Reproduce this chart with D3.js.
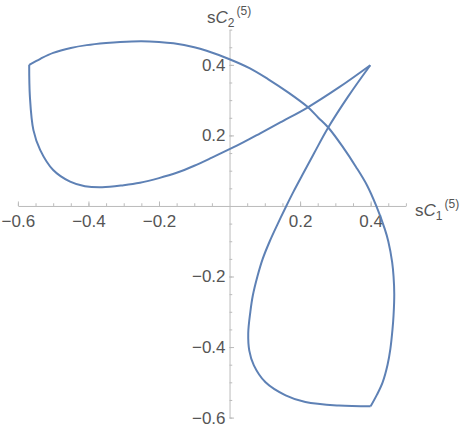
<!DOCTYPE html>
<html>
<head>
<meta charset="utf-8">
<script src="https://cdn.jsdelivr.net/npm/d3@7"></script>
<style>
  body { margin: 0; background: #fff; }
  svg text { font-family: "Liberation Sans", Arial, sans-serif; fill: #555; }
</style>
</head>
<body>
<script>

let width = 463;
let height = 430;

// curve, split at the three cusps
// cusp A -> top arc -> right side -> cusp C
let topArc = [
    [-0.568, 0.400], [-0.535, 0.418], [-0.500, 0.434], [-0.450, 0.448],
    [-0.405, 0.456], [-0.350, 0.462], [-0.310, 0.465], [-0.250, 0.467],
    [-0.200, 0.465], [-0.159, 0.461], [-0.100, 0.450], [-0.065, 0.440],
    [0.000, 0.416], [0.058, 0.390], [0.110, 0.359], [0.166, 0.322],
    [0.221, 0.281], [0.251, 0.251], [0.281, 0.221], [0.322, 0.166],
    [0.359, 0.110], [0.390, 0.058], [0.416, 0.000], [0.440, -0.065],
    [0.450, -0.100], [0.461, -0.159], [0.465, -0.200], [0.467, -0.250],
    [0.465, -0.310], [0.462, -0.350], [0.456, -0.405], [0.448, -0.450],
    [0.434, -0.500], [0.418, -0.535], [0.400, -0.568]
];
// cusp C -> bottom -> left branch -> cusp B
let lowerBranch = [
    [0.400, -0.568], [0.310, -0.566], [0.215, -0.556], [0.159, -0.537],
    [0.102, -0.500], [0.069, -0.452], [0.056, -0.410], [0.053, -0.361],
    [0.059, -0.300], [0.066, -0.254], [0.079, -0.200], [0.094, -0.150],
    [0.114, -0.100], [0.137, -0.050], [0.161, 0.000], [0.181, 0.040],
    [0.206, 0.087], [0.240, 0.150], [0.279, 0.221], [0.336, 0.310],
    [0.399, 0.399]
];
// cusp B -> down left -> left loop -> cusp A
let leftLoop = [
    [0.399, 0.399], [0.310, 0.336], [0.221, 0.279], [0.150, 0.240],
    [0.087, 0.206], [0.040, 0.181], [0.000, 0.161], [-0.050, 0.137],
    [-0.100, 0.114], [-0.150, 0.094], [-0.200, 0.079], [-0.254, 0.066],
    [-0.300, 0.059], [-0.361, 0.053], [-0.410, 0.056], [-0.452, 0.069],
    [-0.500, 0.102], [-0.537, 0.159], [-0.556, 0.215], [-0.566, 0.310],
    [-0.568, 0.400]
];

let xMajor = [-0.6, -0.4, -0.2, 0.2, 0.4];
let yMajor = [-0.6, -0.4, -0.2, 0.2, 0.4];
let xMinor = d3.range(-12, 11).map(d => d * 0.05).filter(d => Math.abs(d) > 1e-9);
let yMinor = d3.range(-12, 11).map(d => d * 0.05).filter(d => Math.abs(d) > 1e-9);

let x = d3.scaleLinear().domain([-0.6, 0.5]).range([17.9, 405.9]);
let y = d3.scaleLinear().domain([-0.6, 0.5]).range([417.6, 29.6]);

let svg = d3.select("body").append("svg")
    .attr("width", width)
    .attr("height", height);

let fmt = d3.format(".1f");

// x axis
let gx = svg.append("g").attr("transform", "translate(0," + y(0) + ")");
gx.call(d3.axisBottom(x).tickValues(xMinor).tickSize(-2.7).tickSizeOuter(0).tickFormat(""));
gx.append("g").call(d3.axisBottom(x).tickValues(xMajor).tickSize(-4.5).tickPadding(9).tickFormat(fmt))
    .select(".domain").remove();

// y axis
let gy = svg.append("g").attr("transform", "translate(" + x(0) + ",0)");
gy.call(d3.axisLeft(y).tickValues(yMinor).tickSize(-2.7).tickSizeOuter(0).tickFormat(""));
gy.append("g").call(d3.axisLeft(y).tickValues(yMajor).tickSize(-4.5).tickPadding(4).tickFormat(fmt))
    .select(".domain").remove();

svg.selectAll(".domain").attr("stroke", "#bbb");
svg.selectAll(".tick line").attr("stroke", "#bbb");
svg.selectAll(".tick text")
    .attr("font-size", 17)
    .attr("font-family", "Liberation Sans, Arial, sans-serif")
    .attr("fill", "#555");

// axis labels
function axisLabel(px, py, sub) {
    let t = svg.append("text").attr("x", px).attr("y", py).attr("font-size", 17);
    t.append("tspan").text("s");
    t.append("tspan").attr("font-style", "italic").text("C");
    t.append("tspan").attr("font-size", 12).attr("dy", 4).text(sub);
    t.append("tspan").attr("font-size", 12).attr("dy", -12).attr("dx", 2).text("(5)");
}
axisLabel(207, 23, "2");
axisLabel(415, 216, "1");

// curve
let line = d3.line()
    .x(d => x(d[0]))
    .y(d => y(d[1]))
    .curve(d3.curveCatmullRom.alpha(0.5));

svg.selectAll("path.curve")
    .data([topArc, lowerBranch, leftLoop])
    .enter()
    .append("path")
    .attr("class", "curve")
    .attr("fill", "none")
    .attr("stroke", "#5e81b5")
    .attr("stroke-width", 2)
    .attr("stroke-linejoin", "miter")
    .attr("d", line);

</script>
</body>
</html>
